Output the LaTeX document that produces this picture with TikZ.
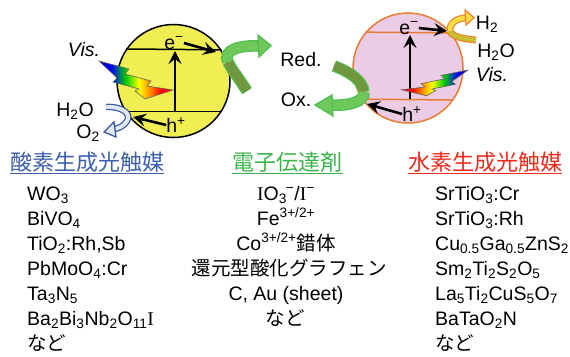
\documentclass[tikz,border=0pt]{standalone}
\usepackage{fontspec}
\setmainfont{Liberation Sans}
\newfontfamily\jp{Noto Sans CJK JP}
\newfontfamily\serifI{Liberation Serif}
\usetikzlibrary{arrows.meta}

\definecolor{catyellow}{RGB}{240,238,82}
\definecolor{catpink}{RGB}{236,204,228}
\definecolor{catorange}{RGB}{232,124,52}
\definecolor{gedge}{RGB}{80,190,80}
\definecolor{glight}{RGB}{110,200,90}
\definecolor{gdark}{RGB}{112,150,62}
\definecolor{bedge}{RGB}{50,80,160}
\definecolor{blight}{RGB}{225,232,248}
\definecolor{oedge}{RGB}{240,130,40}
\definecolor{olight}{RGB}{250,222,70}
\definecolor{odark}{RGB}{200,190,50}
\definecolor{headblue}{RGB}{60,95,175}
\definecolor{headgreen}{RGB}{60,180,75}
\definecolor{headred}{RGB}{240,40,25}

% tikz maps the path onto 25bp..75bp of the shading
\pgfdeclarehorizontalshading{rainbow}{100bp}{color(0bp)=(blue!60!black); color(25bp)=(blue!60!black); color(33bp)=(blue); color(43bp)=(green!80!black); color(52bp)=(yellow); color(60bp)=(orange); color(67bp)=(red); color(75bp)=(red!80!magenta); color(100bp)=(red!80!magenta)}

\begin{document}
\begin{tikzpicture}[x=1pt,y=-1pt, % pixel grid, y runs downwards
  lbl/.style={font=\fontsize{19.5}{22}\selectfont,inner sep=0pt},
  listitem/.style={font=\fontsize{19.5}{22}\selectfont,inner sep=0pt,anchor=base west},
  listhead/.style={font=\jp\fontsize{22}{26}\selectfont,inner sep=0pt,anchor=base west},
  barrow/.style={line width=2.6pt,-{Stealth[length=13pt,width=13pt,inset=5pt]}},
  gband/.style={draw=gedge,double=glight,double distance=9pt,line width=1.3pt},
  obband/.style={draw=oedge,double=olight,double distance=4.5pt,line width=1.2pt},
  bband/.style={draw=bedge,double=blight,double distance=4pt,line width=1.2pt},
  pics/bolt/.style={code={
    \path[draw=black!60,line width=0.6pt,shade,shading=rainbow,shading angle=#1]
      (0,0) -- (30,8) -- (26,13) -- (52,20) -- (48,25) -- (74,29)
      -- (46,38) -- (36,30) -- (40,28) -- (14,21) -- (18,17) -- cycle;}},
  pics/bolt/.default=0]
\useasboundingbox (0,0) rectangle (570,356);

% the two catalyst particles
\node[circle,draw,line width=1.5pt,fill=catyellow,minimum size=113pt,inner sep=0pt] (ocat) at (173.5,81) {};
\node[circle,draw=catorange,line width=1.5pt,fill=catpink,minimum size=110pt,inner sep=0pt] (hcat) at (408,68) {};
\draw[line width=1.5pt] (ocat.146.7) -- (ocat.33.3);
\draw[line width=1.5pt] (ocat.212) -- (ocat.328);
\draw[catorange,line width=1.5pt] (hcat.140.5) -- (hcat.39.5);
\draw[catorange,line width=1.5pt] (hcat.214.3) -- (hcat.325.7);

% carriers
\node[lbl] (oe) at (174,43) {e\textsuperscript{−}};
\node[lbl] (oh) at (176,125) {h\textsuperscript{+}};
\node[lbl] (he) at (409,28) {e\textsuperscript{−}};
\node[lbl] (hh) at (412,114) {h\textsuperscript{+}};
\coordinate (ovb) at (175,111); \coordinate (ovt) at (175,51);
\coordinate (oet) at (216,52);  \coordinate (oht) at (133,117);
\coordinate (hvb) at (410,99);  \coordinate (hvt) at (410,35);
\coordinate (het) at (447,31);  \coordinate (hht) at (367,104);
\draw[barrow] (ovb) -- (ovt);
\draw[barrow] (oe.east) -- (oet);
\draw[barrow] (oh.west) -- (oht);
\draw[barrow] (hvb) -- (hvt);
\draw[barrow] (he.east) -- (het);
\draw[barrow] (hh.west) -- (hht);

% visible light
\pic at (99,61) {bolt=0};
\pic[xscale=-0.9,yscale=0.68] at (468,70) {bolt=180};
\node[lbl,font=\fontsize{19.5}{22}\selectfont\itshape] (ovis) at (84,50) {Vis.};
\node[lbl,font=\fontsize{19.5}{22}\selectfont\itshape] (hvis) at (492,75) {Vis.};

% reactants and products
\node[lbl] (owater) at (75,111) {H\textsubscript{2}O};
\node[lbl] (oxygen) at (88,133) {O\textsubscript{2}};
\node[lbl] (hydrogen) at (487,24) {H\textsubscript{2}};
\node[lbl] (hwater) at (496,52) {H\textsubscript{2}O};
\node[lbl] (red) at (301,60) {Red.};
\node[lbl] (ox) at (296,100) {Ox.};

% water oxidation
\draw[bband] (106,107) .. controls (122,106) and (132,114) .. (127,121)
  .. controls (124,126) and (119,128) .. (115,129);
\filldraw[fill=blight,draw=bedge,line width=1.2pt] (114,122) -- (104,132) -- (116,137) -- cycle;

% mediator, oxidised side
\draw[gband,double=gdark] (247,91) .. controls (240,80) and (232,70) .. (228,62);
\draw[gband] (228,62) .. controls (222,50) and (240,45) .. (259,46);
\filldraw[fill=glight,draw=gedge,line width=1.3pt] (258,35) -- (271,45.5) -- (259,57) -- cycle;

% mediator, reduced side
\draw[gband,double=gdark] (334,66) .. controls (350,72) and (362,80) .. (364,92);
\draw[gband] (364,92) .. controls (365,102) and (348,106) .. (332,105);
\filldraw[fill=glight,draw=gedge,line width=1.3pt] (332,95) -- (315,105) -- (333,116) -- cycle;

% hydrogen evolution
\draw[obband,double=odark] (476,40) .. controls (462,39) and (451,36) .. (450,31);
\draw[obband] (450,31) .. controls (449,24) and (456,18) .. (466,18);
\filldraw[fill=olight,draw=oedge,line width=1.2pt] (465,10) -- (474,17.5) -- (466,25) -- cycle;

% O2 evolution photocatalysts
\node[listhead,text=headblue] (ohead) at (10,170.5) {酸素生成光触媒};
\draw[headblue,line width=1.2pt] ([yshift=-1pt]ohead.south west) -- ([yshift=-1pt]ohead.south east);
\node[listitem] (o1) at (27,200) {WO\textsubscript{3}};
\node[listitem] (o2) at (27,225) {BiVO\textsubscript{4}};
\node[listitem] (o3) at (27,250) {TiO\textsubscript{2}:Rh,Sb};
\node[listitem] (o4) at (27,275) {PbMoO\textsubscript{4}:Cr};
\node[listitem] (o5) at (27,300) {Ta\textsubscript{3}N\textsubscript{5}};
\node[listitem] (o6) at (27,325) {Ba\textsubscript{2}Bi\textsubscript{3}Nb\textsubscript{2}O\textsubscript{11}{\serifI I}};
\node[listitem] (o7) at (27,350) {\jp など};

% electron mediators
\node[listhead,anchor=base,text=headgreen] (mhead) at (287.5,170.5) {電子伝達剤};
\draw[headgreen,line width=1.2pt] ([yshift=-1pt]mhead.south west) -- ([yshift=-1pt]mhead.south east);
\node[listitem,anchor=base] (m1) at (286,200) {{\serifI I}O\textsubscript{3}\kern-1pt\textsuperscript{−}/{\serifI I}\textsuperscript{−}};
\node[listitem,anchor=base] (m2) at (286,225) {Fe\textsuperscript{3+/2+}};
\node[listitem,anchor=base] (m3) at (286,250) {Co\textsuperscript{3+/2+}{\jp 錯体}};
\node[listitem,anchor=base] (m4) at (289,275) {\jp 還元型酸化グラフェン};
\node[listitem,anchor=base] (m5) at (286,300) {C, Au (sheet)};
\node[listitem,anchor=base] (m6) at (285,325) {\jp など};

% H2 evolution photocatalysts
\node[listhead,text=headred] (hhead) at (408,170.5) {水素生成光触媒};
\draw[headred,line width=1.2pt] ([yshift=-1pt]hhead.south west) -- ([yshift=-1pt]hhead.south east);
\node[listitem] (h1) at (435,200) {SrTiO\textsubscript{3}:Cr};
\node[listitem] (h2) at (435,225) {SrTiO\textsubscript{3}:Rh};
\node[listitem] (h3) at (435,250) {Cu\textsubscript{0.5}Ga\textsubscript{0.5}ZnS\textsubscript{2}};
\node[listitem] (h4) at (435,275) {Sm\textsubscript{2}Ti\textsubscript{2}S\textsubscript{2}O\textsubscript{5}};
\node[listitem] (h5) at (435,300) {La\textsubscript{5}Ti\textsubscript{2}CuS\textsubscript{5}O\textsubscript{7}};
\node[listitem] (h6) at (435,325) {BaTaO\textsubscript{2}N};
\node[listitem] (h7) at (435,350) {\jp など};
\end{tikzpicture}
\end{document}
